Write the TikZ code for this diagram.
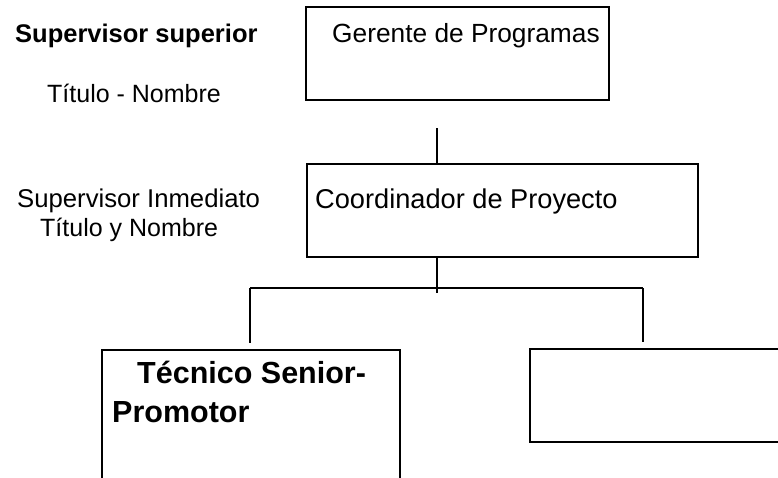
\documentclass[tikz,border=0pt]{standalone}
\usepackage{fontspec}
\setmainfont{Liberation Sans}
\usepackage{tikz}
\usetikzlibrary{positioning, calc}

\tikzset{
  cargo/.style={draw, line width=1.2pt, inner sep=0pt, minimum height=93pt},
  rotulo/.style={anchor=base west, inner sep=0pt, font=\fontsize{25}{30}\selectfont},
  linea/.style={line width=1.2pt},
}

\begin{document}
\begin{tikzpicture}[x=1pt, y=-1pt]
  \clip (0,0) rectangle (778,477);
  % cajas
  \node [cargo, minimum width=303pt] (gerente) at (457.5,53.5) {};
  \node [cargo, minimum width=391pt] (coord) at (502.5,210.5) {};
  \node [cargo, minimum width=298pt, minimum height=170pt] (tecnico) at (251,435) {};
  \node [cargo, minimum width=290pt] (vacante) at (675,395.5) {};

  % textos
  \node [rotulo, font=\fontsize{25.5}{30}\selectfont\bfseries] (supsup) at (15,42) {Supervisor superior};
  \node [rotulo] (tit1) at (47,102) {Título - Nombre};
  \node [rotulo, font=\fontsize{25.7}{30}\selectfont] (supinm) at (17,207) {Supervisor Inmediato};
  \node [rotulo] (tit2) at (40,236) {Título y Nombre};
  \node [rotulo, font=\fontsize{26.3}{31}\selectfont] (tgerente) at (332,42) {Gerente de Programas};
  \node [rotulo, font=\fontsize{27.2}{32}\selectfont] (tcoord) at (315,208) {Coordinador de Proyecto};
  \node [rotulo, font=\fontsize{30.5}{36}\selectfont\bfseries] (ttec1) at (137,383) {Técnico Senior-};
  \node [rotulo, font=\fontsize{30.5}{36}\selectfont\bfseries] (ttec2) at (112,422) {Promotor};

  % conectores
  \coordinate (g1) at (437,128);
  \coordinate (c1) at (437,293);
  \coordinate (izq) at (250,288);
  \coordinate (der) at (643,288);
  \draw [linea] (g1) -- (g1 |- coord.north);
  \draw [linea] (coord.south -| c1) -- (c1);
  \draw [linea] (izq) -- (der);
  \draw [linea, shorten >=6pt] (izq) -- (izq |- tecnico.north);
  \draw [linea, shorten >=6pt] (der) -- (der |- vacante.north);
\end{tikzpicture}
\end{document}
